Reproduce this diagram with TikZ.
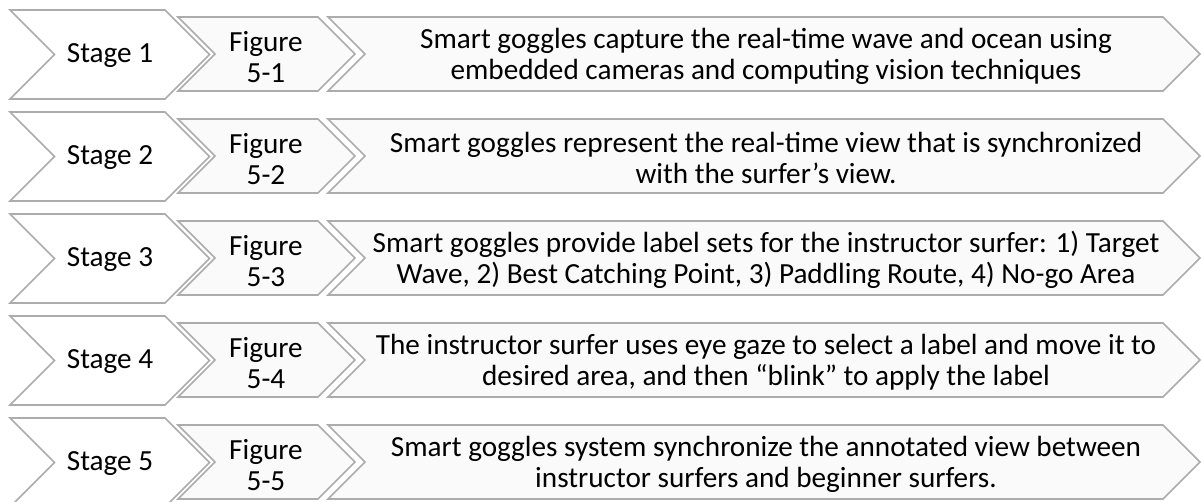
\documentclass[tikz,border=0pt]{standalone}
\usepackage{fontspec}
\setmainfont{Carlito}
\definecolor{chevline}{RGB}{172,172,172}
\definecolor{chevfill}{RGB}{250,250,250}

\begin{document}
\begin{tikzpicture}[x=0.5pt,y=-0.5pt,
	chev/.style={draw=chevline,line width=0.8pt,line join=miter},
	lbl/.style={font=\fontsize{14.6}{15.6}\selectfont,align=center,inner sep=0pt}]

\useasboundingbox (0,0) rectangle (1201,502);

% A chevron: left x #1, top y #2, right corner x #3, half-height #4, fill #5
\newcommand{\chevronbox}[5]{%
	\draw[chev,fill=#5] (#1,#2) -- (#3,#2) -- ++(#4,#4) -- ++(-#4,#4)
		-- ++({#1-#3},0) -- ++(#4,-#4) -- cycle;
}

\foreach \n/\desc in {%
	1/{Smart goggles capture the real-time wave and ocean using\\embedded cameras and computing vision techniques},
	2/{Smart goggles represent the real-time view that is synchronized\\with the surfer’s view.},
	3/{Smart goggles provide label sets for the instructor surfer: 1) Target\\Wave, 2) Best Catching Point, 3) Paddling Route, 4) No-go Area},
	4/{The instructor surfer uses eye gaze to select a label and move it to\\desired area, and then “blink” to apply the label},
	5/{Smart goggles system synchronize the annotated view between\\instructor surfers and beginner surfers.}}
{
	\pgfmathsetmacro{\rowy}{10+102*(\n-1)}
	\pgfmathsetmacro{\innery}{\rowy+7}

	% the three chevrons of a row
	\chevronbox{10}{\rowy}{165}{44.5}{white}
	\chevronbox{178}{\innery}{318}{37}{chevfill}
	\chevronbox{328}{\innery}{1163}{37}{chevfill}

	% their labels
	\node[lbl] (stage\n) at (110,\rowy+46) {Stage \n};
	\node[lbl] (fig\n) at (266,\rowy+47) {Figure\\5-\n};
	\node[lbl] (desc\n) at (766,\rowy+46) {\desc};
}
\end{tikzpicture}
\end{document}
